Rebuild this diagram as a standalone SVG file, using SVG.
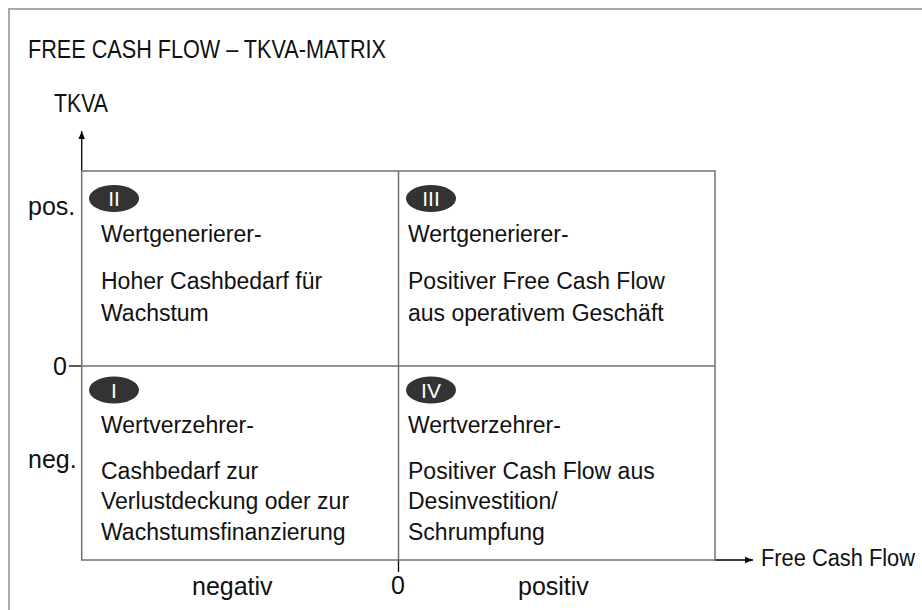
<svg xmlns="http://www.w3.org/2000/svg" width="922" height="610" viewBox="0 0 922 610">
  <defs>
    <style>
      .frame { fill: none; stroke: #aaaaaa; stroke-width: 2; }
      .grid { fill: none; stroke: #707070; stroke-width: 1.5; }
      .axis { fill: none; stroke: #000000; stroke-width: 1.3; }
      .q { font-family: "Liberation Sans", Arial, sans-serif; font-size: 23px; fill: #111111; }
      .lbl { font-family: "Liberation Sans", Arial, sans-serif; font-size: 25px; fill: #111111; }
      .ttl { font-family: "Liberation Sans", Arial, sans-serif; font-size: 25px; fill: #111111; }
      .badge { fill: #333333; }
      .bt { font-family: "Liberation Sans", Arial, sans-serif; font-size: 21px; fill: #ffffff; text-anchor: middle; }
    </style>
    <marker id="arr" viewBox="0 0 10 10" refX="10" refY="5" markerWidth="8" markerHeight="8" markerUnits="userSpaceOnUse" orient="auto">
      <path d="M0,1 L10,5 L0,9 Z" fill="#000000"/>
    </marker>
  </defs>

  <path class="frame" d="M9,612 V9 H924"/>

  <text class="ttl" x="28" y="58" textLength="358" lengthAdjust="spacingAndGlyphs">FREE CASH FLOW – TKVA-MATRIX</text>
  <text class="ttl" x="54" y="112" textLength="54" lengthAdjust="spacingAndGlyphs">TKVA</text>

  <g id="connectors">
    <line class="axis" x1="81.7" y1="171" x2="81.7" y2="131" marker-end="url(#arr)"/>
    <line class="axis" x1="715" y1="560" x2="753" y2="560" marker-end="url(#arr)"/>
    <line class="axis" x1="69" y1="366" x2="81.7" y2="366"/>
    <line class="axis" x1="398.5" y1="560" x2="398.5" y2="572"/>
    <rect class="grid" x="81.7" y="171" width="633.3" height="389"/>
    <line class="grid" x1="81.7" y1="366" x2="715" y2="366"/>
    <line class="grid" x1="398.5" y1="171" x2="398.5" y2="560"/>
  </g>

  <g id="axis-labels">
    <text class="lbl" x="28" y="215">pos.</text>
    <text class="lbl" x="28" y="468">neg.</text>
    <text class="lbl" x="67" y="375" text-anchor="end">0</text>
    <text class="lbl" x="398" y="594" text-anchor="middle">0</text>
    <text class="lbl" x="192" y="595">negativ</text>
    <text class="lbl" x="518" y="595">positiv</text>
    <text class="q" x="761" y="566" textLength="154" lengthAdjust="spacingAndGlyphs">Free Cash Flow</text>
  </g>

  <g id="q2">
    <ellipse class="badge" cx="114" cy="198.5" rx="25" ry="13.5"/>
    <text class="bt" x="114" y="206">II</text>
    <text class="q" x="101" y="242">Wertgenerierer-</text>
    <text class="q" x="101" y="289">Hoher Cashbedarf für</text>
    <text class="q" x="101" y="321">Wachstum</text>
  </g>

  <g id="q3">
    <ellipse class="badge" cx="431" cy="198.5" rx="25" ry="13.5"/>
    <text class="bt" x="431" y="206">III</text>
    <text class="q" x="408" y="242">Wertgenerierer-</text>
    <text class="q" x="408" y="289">Positiver Free Cash Flow</text>
    <text class="q" x="408" y="321">aus operativem Geschäft</text>
  </g>

  <g id="q1">
    <ellipse class="badge" cx="114" cy="390" rx="25" ry="13.5"/>
    <text class="bt" x="114" y="397.5">I</text>
    <text class="q" x="101" y="433">Wertverzehrer-</text>
    <text class="q" x="101" y="479">Cashbedarf zur</text>
    <text class="q" x="101" y="509">Verlustdeckung oder zur</text>
    <text class="q" x="101" y="540">Wachstumsfinanzierung</text>
  </g>

  <g id="q4">
    <ellipse class="badge" cx="431" cy="390" rx="25" ry="13.5"/>
    <text class="bt" x="431" y="397.5">IV</text>
    <text class="q" x="408" y="433">Wertverzehrer-</text>
    <text class="q" x="408" y="479">Positiver Cash Flow aus</text>
    <text class="q" x="408" y="509">Desinvestition/</text>
    <text class="q" x="408" y="540">Schrumpfung</text>
  </g>
</svg>
